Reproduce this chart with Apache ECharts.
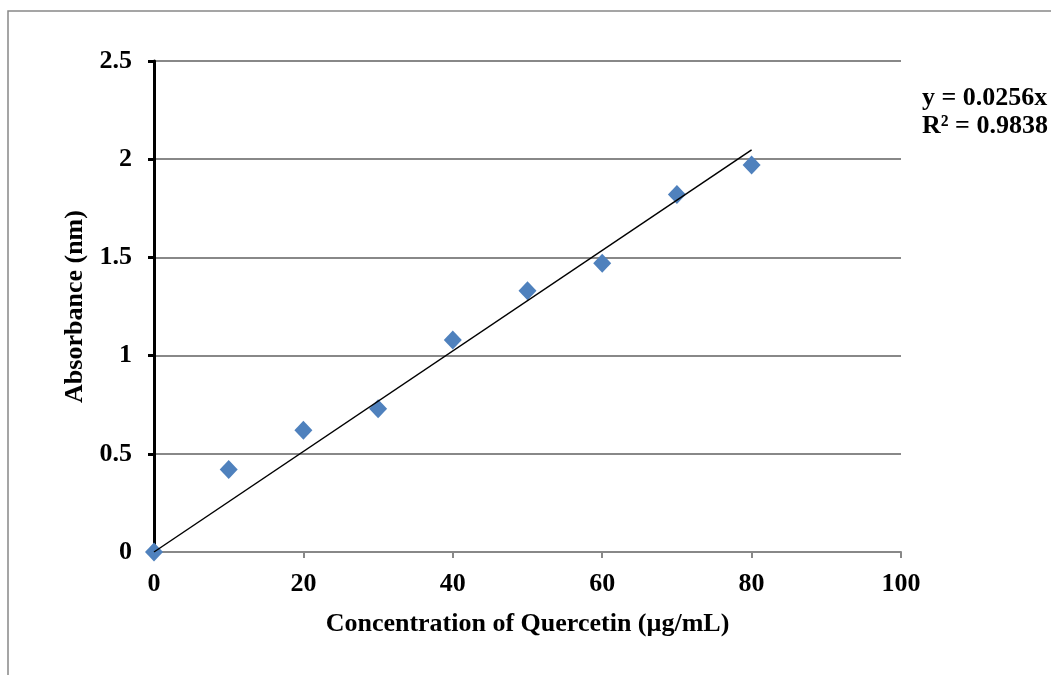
<!DOCTYPE html>
<html>
<head>
<meta charset="utf-8">
<script src="https://cdn.jsdelivr.net/npm/echarts@6/dist/echarts.min.js"></script>
<style>
  html, body { margin: 0; padding: 0; background: #fff; }
  #chart { width: 1051px; height: 675px; }
</style>
</head>
<body>
<div id="chart"></div>
<script>
// measured points
const concentration = [0, 10, 20, 30, 40, 50, 60, 70, 80];
const absorbance = [0, 0.42, 0.62, 0.73, 1.08, 1.33, 1.47, 1.82, 1.97];
// linear trendline through origin (y = 0.0256x)
const trendX = [0, 80];
const trendY = [0, 2.048];
const equationLines = ['y = 0.0256x', 'R² = 0.9838'];

const font = '"Liberation Serif", "Times New Roman", serif';

const chart = echarts.init(document.getElementById('chart'));
const option = {
    animation: false,
    backgroundColor: '#fff',
    grid: { left: 154, right: 150, top: 61, bottom: 123 },
    xAxis: {
        type: 'value',
        min: 0, max: 100, interval: 20,
        name: 'Concentration of Quercetin (µg/mL)',
        nameLocation: 'middle',
        nameGap: 59,
        nameTextStyle: { fontFamily: font, fontWeight: 'bold', fontSize: 26, color: '#000' },
        axisLine: { lineStyle: { color: '#888', width: 2 } },
        axisTick: { show: true, length: 6, lineStyle: { color: '#888', width: 2 } },
        axisLabel: { fontFamily: font, fontWeight: 'bold', fontSize: 26, color: '#000', margin: 19 },
        splitLine: { show: false }
    },
    yAxis: {
        type: 'value',
        min: 0, max: 2.5, interval: 0.5,
        name: 'Absorbance (nm)',
        nameLocation: 'middle',
        nameGap: 63,
        nameTextStyle: { fontFamily: font, fontWeight: 'bold', fontSize: 26, color: '#000' },
        axisLine: { show: true, lineStyle: { color: '#000', width: 3 } },
        axisTick: { show: true, length: 6, lineStyle: { color: '#000', width: 3 } },
        axisLabel: { fontFamily: font, fontWeight: 'bold', fontSize: 26, color: '#000', margin: 22 },
        splitLine: { show: true, lineStyle: { color: '#888', width: 2 } }
    },
    series: [
        {
            type: 'line',
            data: trendX.map((x, i) => [x, trendY[i]]),
            symbol: 'none',
            lineStyle: { color: '#000', width: 1.5 },
            z: 3
        },
        {
            type: 'scatter',
            data: concentration.map((x, i) => [x, absorbance[i]]),
            symbol: 'diamond',
            symbolSize: [18, 19],
            itemStyle: { color: '#4F81BD', opacity: 1 },
            z: 2
        }
    ],
    graphic: [
        {
            type: 'rect',
            shape: { x: 8, y: 11, width: 1100, height: 700 },
            style: { fill: 'none', stroke: '#888', lineWidth: 1.5 },
            silent: true
        },
        {
            type: 'text',
            left: 922, top: 84,
            style: {
                text: equationLines.join('\n'),
                font: 'bold 26px ' + font,
                fill: '#000',
                lineHeight: 28
            }
        }
    ]
};
chart.setOption(option);
</script>
</body>
</html>
